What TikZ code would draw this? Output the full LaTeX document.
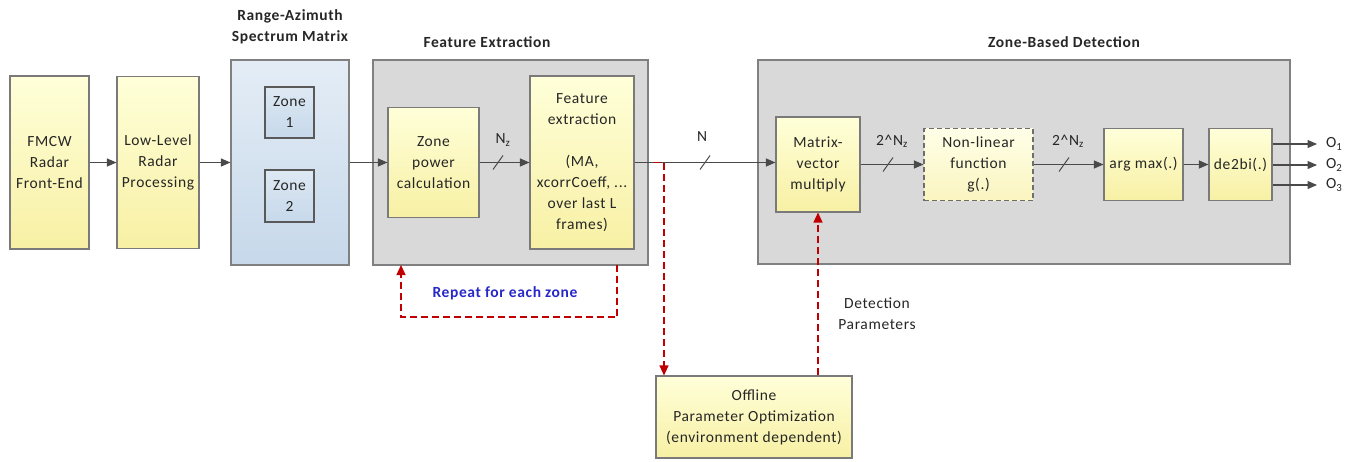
\documentclass[tikz,border=0pt]{standalone}
\usepackage{fontspec}
\setmainfont{Carlito}[LetterSpace=4]
\usetikzlibrary{arrows.meta,calc}

\definecolor{blocktop}{HTML}{FFFFD9}
\definecolor{blockbot}{HTML}{F7F0A4}
\definecolor{blockline}{HTML}{7A7A7A}
\definecolor{groupfill}{HTML}{D9D9D9}
\definecolor{grouplinec}{HTML}{808080}
\definecolor{mattop}{HTML}{E4EDF6}
\definecolor{matbot}{HTML}{C6D8EA}
\definecolor{wiregray}{HTML}{4A4A4A}
\definecolor{loopred}{HTML}{C00000}
\definecolor{notecolor}{HTML}{2828C8}
\definecolor{textgray}{HTML}{262626}

\newcommand\blockfont{\fontsize{15.5}{21}\selectfont}

\tikzset{
  group/.style={draw=grouplinec, line width=1.1pt, fill=groupfill},
  block/.style={draw=blockline, line width=1.1pt, top color=blocktop, bottom color=blockbot,
    align=center, inner sep=1pt, font=\blockfont, text=textgray},
  softblock/.style={block, draw=blockline!90!black, dash pattern=on 5pt off 3pt,
    top color=blocktop!60!white, bottom color=blockbot!70!white},
  matrixbox/.style={draw=grouplinec, line width=1.1pt, top color=mattop, bottom color=matbot},
  zonebox/.style={draw=black!65, line width=1.1pt, top color=mattop!80!matbot, bottom color=matbot,
    align=center, inner sep=1pt, font=\blockfont, text=textgray},
  grouptitle/.style={font=\blockfont\bfseries, align=center, text=textgray},
  lbl/.style={font=\blockfont, align=center, text=textgray, inner sep=0pt},
  flow/.style={draw=wiregray, line width=1.1pt, -{Triangle[length=9.5pt,width=8pt]}},
  feedback/.style={draw=loopred, line width=1.3pt, dash pattern=on 7pt off 4pt,
    -{Triangle[length=10pt,width=9pt]}},
  busmark/.pic={\draw[wiregray, line width=1pt] (-5,7) -- (5,-7);}
}

\begin{document}
\begin{tikzpicture}[x=1pt, y=-1pt]
\useasboundingbox (0,0) rectangle (1351,461);

% group frames
\node[matrixbox, minimum width=118pt, minimum height=205pt] (ram) at (290,162.5) {};
\node[group, minimum width=275pt, minimum height=205pt] (fe) at (510.5,162.5) {};
\node[group, minimum width=532pt, minimum height=204pt] (zb) at (1024,162) {};

% group titles
\node[grouptitle] (ramtitle) at (290,26.5) {Range-Azimuth\\Spectrum Matrix};
\node[grouptitle] (fetitle) at (487,42) {Feature Extraction};
\node[grouptitle] (zbtitle) at (1064,42) {Zone-Based Detection};

% front end chain
\node[block, minimum width=79pt, minimum height=173pt] (fmcw) at (49.5,162.5) {FMCW\\Radar\\Front-End};
\node[block, minimum width=82pt, minimum height=172pt] (low) at (158,162.5) {Low-Level\\Radar\\Processing};
\node[zonebox, minimum width=49pt, minimum height=51pt] (z1) at (289.5,112.5) {Zone\\1};
\node[zonebox, minimum width=49pt, minimum height=52pt] (z2) at (289.5,196) {Zone\\2};

% feature extraction
\node[block, minimum width=91pt, minimum height=110pt] (zp) at (433.5,162.5) {Zone\\power\\calculation};
\node[block, minimum width=104pt, minimum height=173pt] (fx) at (582,162.5)
  {Feature\\extraction\\[21pt](MA,\\xcorrCoeff, ...\\over last L\\frames)};

% zone-based detection
\node[block, minimum width=84pt, minimum height=95pt] (mv) at (818,164.5) {Matrix-\\vector\\multiply};
\node[softblock, minimum width=109pt, minimum height=72pt] (nl) at (978.5,164.5) {Non-linear\\function\\g(.)};
\node[block, minimum width=79pt, minimum height=72pt] (am) at (1143.5,164.5) {arg max(.)};
\node[block, minimum width=63pt, minimum height=72pt] (db) at (1240.5,164.5) {de2bi(.)};

% offline optimisation
\node[block, minimum width=196pt, minimum height=82pt] (off) at (754,417)
  {Offline\\Parameter Optimization\\(environment dependent)};

% outputs
\node[lbl, anchor=west] (o1) at (1326,144) {O\textsubscript{1}};
\node[lbl, anchor=west] (o2) at (1326,165) {O\textsubscript{2}};
\node[lbl, anchor=west] (o3) at (1326,185) {O\textsubscript{3}};

% main signal path
\draw[flow] (fmcw) -- (low);
\draw[flow] (low) -- (ram);
\draw[flow] (ram) -- (zp);
\draw[flow] (zp) -- (fx);
\draw[flow] (fx.east) -- (fx.east -| mv.west);
\draw[flow] (mv) -- (nl);
\draw[flow] (nl) -- (am);
\draw[flow] (am) -- (db);
\draw[flow, shorten >=9pt] (db.east |- o1) -- (o1.west);
\draw[flow, shorten >=9pt] (db.east |- o2) -- (o2.west);
\draw[flow, shorten >=9pt] (db.east |- o3) -- (o3.west);

% bus widths
\pic at (498,162.5) {busmark};
\node[lbl] (nzlbl) at (503,140) {N\textsubscript{z}};
\pic at (705,162.5) {busmark};
\node[lbl] (nlbl) at (702,137) {N};
\pic at (888,164.5) {busmark};
\node[lbl] (w1lbl) at (892,141) {2\textasciicircum N\textsubscript{z}};
\pic at (1064,164.5) {busmark};
\node[lbl] (w2lbl) at (1068,141) {2\textasciicircum N\textsubscript{z}};

% per-zone loop
\coordinate (loopout) at (617,264.5);
\coordinate (loopin) at (401,265);
\draw[feedback, -] (loopout) -- ++(0,52.5) -| ($(loopin)+(0,12)$);
\draw[feedback] ($(loopin)+(0,12)$) -- (loopin);
\node[font=\blockfont\bfseries, text=notecolor] (rep) at (505,293) {Repeat for each zone};

% offline branch and parameters
\coordinate (tap) at (664,162.5);
\draw[feedback] ([xshift=5pt]fe.east |- tap) -- (tap) -- (tap |- off.north);
\draw[feedback] (off.north -| mv) -- (mv.south);
\node[lbl] (detlbl) at (877,314) {Detection\\Parameters};

\end{tikzpicture}
\end{document}
